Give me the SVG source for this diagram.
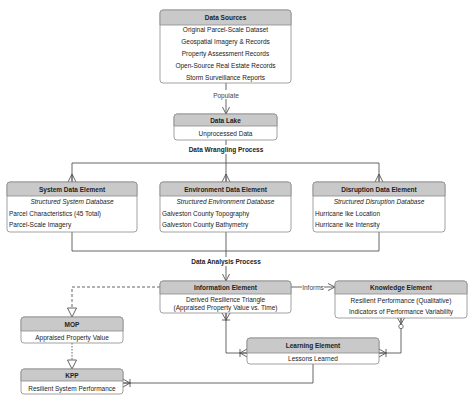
<svg xmlns="http://www.w3.org/2000/svg" width="474" height="402" viewBox="0 0 474 402">
<style>
text{font-family:"Liberation Sans",Arial,sans-serif;font-size:6.5px;fill:#222}
.h{font-weight:bold;text-anchor:middle}
.c{text-anchor:middle}
.i{font-style:italic;text-anchor:middle}
.lb{font-weight:bold;text-anchor:middle}
.box{fill:#fff;stroke:#8a8a8a;stroke-width:0.8}
.hd{fill:#c9c9c9;stroke:#8a8a8a;stroke-width:0.8}
.ln{fill:none;stroke:#555;stroke-width:0.9}
.bg{fill:#fff}
</style>
<defs>
<marker id="open" markerUnits="userSpaceOnUse" markerWidth="10" markerHeight="10" viewBox="-1 -5 10 10" refX="7" refY="0" orient="auto"><path d="M0,-3.5 L7,0 L0,3.5" fill="none" stroke="#555" stroke-width="0.9"/></marker>
<marker id="tri" markerUnits="userSpaceOnUse" markerWidth="12" markerHeight="12" viewBox="-1 -6 12 12" refX="9" refY="0" orient="auto"><path d="M0,-4.5 L9,0 L0,4.5 Z" fill="#fff" stroke="#555" stroke-width="0.9"/></marker>
<marker id="many" markerUnits="userSpaceOnUse" markerWidth="12" markerHeight="12" viewBox="-1 -6 12 12" refX="8" refY="0" orient="auto"><path d="M0,0 L8,-4 M0,0 L8,4 M0,0 L8,0" fill="none" stroke="#555" stroke-width="0.9"/></marker>
<marker id="oneMany" markerUnits="userSpaceOnUse" markerWidth="12" markerHeight="12" viewBox="-1 -6 12 12" refX="8" refY="0" orient="auto-start-reverse"><path d="M1,0 L8,-4 M1,0 L8,4 M0,0 L8,0 M1,-4 L1,4" fill="none" stroke="#555" stroke-width="0.9"/></marker>
<marker id="zeroMany" markerUnits="userSpaceOnUse" markerWidth="16" markerHeight="12" viewBox="-6 -6 16 12" refX="8" refY="0" orient="auto-start-reverse"><path d="M2,0 L8,-3.5 M2,0 L8,3.5 M2,0 L8,0" fill="none" stroke="#555" stroke-width="0.9"/><circle cx="-0.5" cy="0" r="2.2" fill="#fff" stroke="#555" stroke-width="0.8"/></marker>
</defs>

<g id="connectors">
<path class="ln" d="M226,83 V114" marker-end="url(#open)"/>
<path class="ln" d="M226,140 V163 H72 V182" marker-end="url(#many)"/>
<path class="ln" d="M226,163 V182" marker-end="url(#many)"/>
<path class="ln" d="M226,163 H379 V182" marker-end="url(#many)"/>
<path class="ln" d="M72,232 V251 H379 V232"/>
<path class="ln" d="M226,232 V281" marker-end="url(#open)"/>
<path class="ln" d="M291,287 H335" marker-end="url(#open)"/>
<path class="ln" d="M160,287 H72 V317" stroke-dasharray="3,2" marker-end="url(#tri)"/>
<path class="ln" d="M72,343 V369" stroke-dasharray="1.5,1.5" marker-end="url(#tri)"/>
<path class="ln" d="M226,313 V353 H247" marker-start="url(#oneMany)" marker-end="url(#oneMany)"/>
<path class="ln" d="M401,318 V353 H379" marker-start="url(#zeroMany)" marker-end="url(#oneMany)"/>
<path class="ln" d="M313,364 V383 H123" marker-end="url(#oneMany)"/>
<rect class="bg" x="209" y="90" width="34" height="9"/>
<text class="c" x="226" y="97.5" style="fill:#444">Populate</text>
<rect class="bg" x="186" y="145" width="80" height="9"/>
<text class="lb" x="226" y="152">Data Wrangling Process</text>
<rect class="bg" x="188" y="257" width="76" height="9"/>
<text class="lb" x="226" y="264">Data Analysis Process</text>
<rect class="bg" x="302" y="283" width="22" height="8"/>
<text class="c" x="313" y="289.5" style="fill:#444">Informs</text>
</g>

<g id="data-sources">
<rect class="box" x="160" y="10" width="131" height="73" rx="3"/>
<path class="hd" d="M163,10 H288 A3,3 0 0 1 291,13 V25 H160 V13 A3,3 0 0 1 163,10 Z"/>
<text class="h" x="225.5" y="20">Data Sources</text>
<text class="c" x="225.5" y="32">Original Parcel-Scale Dataset</text>
<text class="c" x="225.5" y="44">Geospatial Imagery &amp; Records</text>
<text class="c" x="225.5" y="56">Property Assessment Records</text>
<text class="c" x="225.5" y="67.5">Open-Source Real Estate Records</text>
<text class="c" x="225.5" y="79.5">Storm Surveillance Reports</text>
</g>

<g id="data-lake">
<rect class="box" x="174" y="114" width="103" height="26" rx="3"/>
<path class="hd" d="M177,114 H274 A3,3 0 0 1 277,117 V126 H174 V117 A3,3 0 0 1 177,114 Z"/>
<text class="h" x="225.5" y="122.5">Data Lake</text>
<text class="c" x="225.5" y="135.5">Unprocessed Data</text>
</g>

<g id="system-data-element">
<rect class="box" x="7" y="182" width="130" height="50" rx="3"/>
<path class="hd" d="M10,182 H134 A3,3 0 0 1 137,185 V196 H7 V185 A3,3 0 0 1 10,182 Z"/>
<text class="h" x="72" y="191.5">System Data Element</text>
<text class="i" x="72" y="204">Structured System Database</text>
<text x="9" y="215.5">Parcel Characteristics (45 Total)</text>
<text x="9" y="227">Parcel-Scale Imagery</text>
</g>

<g id="environment-data-element">
<rect class="box" x="160" y="182" width="131" height="50" rx="3"/>
<path class="hd" d="M163,182 H288 A3,3 0 0 1 291,185 V196 H160 V185 A3,3 0 0 1 163,182 Z"/>
<text class="h" x="225.5" y="191.5">Environment Data Element</text>
<text class="i" x="225.5" y="204">Structured Environment Database</text>
<text x="162" y="215.5">Galveston County Topography</text>
<text x="162" y="227">Galveston County Bathymetry</text>
</g>

<g id="disruption-data-element">
<rect class="box" x="313" y="182" width="132" height="50" rx="3"/>
<path class="hd" d="M316,182 H442 A3,3 0 0 1 445,185 V196 H313 V185 A3,3 0 0 1 316,182 Z"/>
<text class="h" x="379" y="191.5">Disruption Data Element</text>
<text class="i" x="379" y="204">Structured Disruption Database</text>
<text x="315" y="215.5">Hurricane Ike Location</text>
<text x="315" y="227">Hurricane Ike Intensity</text>
</g>

<g id="information-element">
<rect class="box" x="160" y="281" width="131" height="32" rx="3"/>
<path class="hd" d="M163,281 H288 A3,3 0 0 1 291,284 V294 H160 V284 A3,3 0 0 1 163,281 Z"/>
<text class="h" x="225.5" y="290">Information Element</text>
<text class="c" x="225.5" y="301.5">Derived Resilience Triangle</text>
<text class="c" x="225.5" y="310">(Appraised Property Value vs. Time)</text>
</g>

<g id="knowledge-element">
<rect class="box" x="335" y="281" width="132" height="37" rx="3"/>
<path class="hd" d="M338,281 H464 A3,3 0 0 1 467,284 V294 H335 V284 A3,3 0 0 1 338,281 Z"/>
<text class="h" x="401" y="290">Knowledge Element</text>
<text class="c" x="401" y="303">Resilient Performance (Qualitative)</text>
<text class="c" x="401" y="313.5">Indicators of Performance Variability</text>
</g>

<g id="mop">
<rect class="box" x="21" y="317" width="102" height="26" rx="3"/>
<path class="hd" d="M24,317 H120 A3,3 0 0 1 123,320 V331 H21 V320 A3,3 0 0 1 24,317 Z"/>
<text class="h" x="72" y="326.5">MOP</text>
<text class="c" x="72" y="339.5">Appraised Property Value</text>
</g>

<g id="learning-element">
<rect class="box" x="247" y="338" width="132" height="26" rx="3"/>
<path class="hd" d="M250,338 H376 A3,3 0 0 1 379,341 V353 H247 V341 A3,3 0 0 1 250,338 Z"/>
<text class="h" x="313" y="347.5">Learning Element</text>
<text class="c" x="313" y="360.5">Lessons Learned</text>
</g>

<g id="kpp">
<rect class="box" x="21" y="369" width="102" height="25" rx="3"/>
<path class="hd" d="M24,369 H120 A3,3 0 0 1 123,372 V381 H21 V372 A3,3 0 0 1 24,369 Z"/>
<text class="h" x="72" y="377.5">KPP</text>
<text class="c" x="72" y="390.5">Resilient System Performance</text>
</g>
</svg>
